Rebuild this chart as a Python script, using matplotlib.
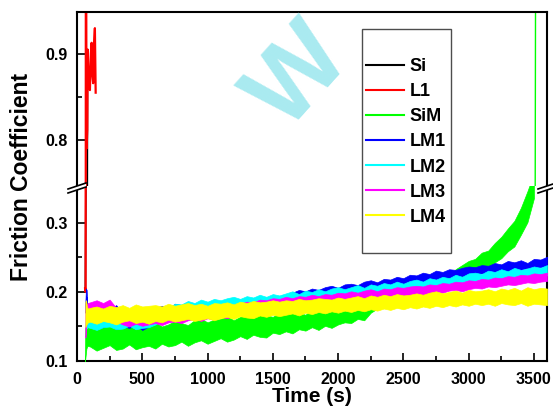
import numpy as np
import matplotlib
matplotlib.use("Agg")
import matplotlib.pyplot as plt
import matplotlib.ticker as mticker
from matplotlib.lines import Line2D
from matplotlib.patches import Rectangle, Polygon

plt.rcParams["font.family"] = ["Liberation Sans", "DejaVu Sans"]
plt.rcParams["font.weight"] = "bold"

# ================== figure geometry (pixels) ==================
W, H, DPI = 553, 418, 100
AX_L, AX_R = 77, 547          # plot area left / right
AX_T, AX_B, AX_MID = 12, 361, 186   # top, bottom, axis break

# ================== data ==================
# sampling times of the noisy friction bands (s)
t_grid = np.arange(100, 3601, 50)

# Si and L1 fail almost at once
si_t = [64, 79, 80]
si_v = [0.20, 0.75, 0.905]

l1_t = [62, 66, 68, 73, 79, 82, 90, 99, 106, 112, 118, 124, 130, 137, 143]
l1_v = [0.205, 0.20, 1.20, 0.79, 0.812, 0.905, 0.87, 0.858, 0.90, 0.913,
        0.875, 0.866, 0.91, 0.93, 0.855]

# band envelopes, values x 1e-3 ; *_t0 / *_lo0 / *_hi0 = running-in part
sim_t0 = [60, 64, 72, 80]
sim_lo0 = [98, 104, 118, 122]
sim_hi0 = [101, 150, 146, 151]
sim_lo = [121, 115, 119, 123, 116, 118, 124, 117, 120, 122,
          118, 125, 121, 123, 128, 122, 127, 130, 125, 129,
          133, 128, 131, 136, 132, 138, 135, 134, 141, 139,
          143, 140, 146, 144, 149, 145, 151, 148, 153, 156,
          155, 161, 159, 170, 176, 177, 182, 181, 186, 188,
          191, 193, 197, 199, 204, 207, 212, 212, 219, 221,
          229, 234, 243, 249, 259, 266, 283, 301, 336]
sim_hi = [152, 147, 150, 155, 148, 151, 153, 146, 154, 150,
          156, 150, 153, 158, 155, 152, 159, 161, 156, 160,
          161, 165, 159, 164, 167, 162, 169, 166, 164, 170,
          168, 172, 170, 167, 175, 173, 171, 177, 174, 176,
          179, 175, 181, 182, 186, 187, 191, 190, 195, 196,
          201, 203, 209, 211, 218, 223, 233, 239, 245, 248,
          257, 260, 271, 280, 292, 303, 322, 346, 372]
# SiM breaks down near 3500 s
sim_end_t = [3505, 3515]
sim_end_v = [0.36, 1.20]

lm1_t0 = [64, 68, 74, 80]
lm1_lo0 = [170, 194, 192, 158]
lm1_hi0 = [180, 205, 203, 172]
lm1_lo = [151, 147, 149, 153, 146, 150, 148, 152, 145, 150,
          155, 159, 161, 165, 163, 168, 166, 171, 169, 173,
          172, 176, 174, 178, 175, 179, 177, 182, 180, 183,
          184, 187, 185, 189, 191, 190, 194, 193, 196, 198,
          199, 202, 201, 204, 206, 205, 208, 210, 209, 213,
          212, 215, 217, 216, 219, 221, 220, 223, 225, 226,
          227, 226, 229, 231, 230, 233, 232, 235, 234, 236, 238]
lm1_hi = [170, 176, 168, 174, 181, 169, 175, 172, 178, 171,
          177, 180, 176, 183, 181, 184, 182, 185, 183, 186,
          185, 188, 186, 189, 187, 191, 188, 192, 190, 194,
          196, 199, 203, 201, 205, 203, 207, 209, 206, 211,
          212, 210, 215, 217, 214, 219, 218, 222, 220, 225,
          224, 228, 226, 231, 229, 233, 232, 235, 237, 236,
          239, 238, 242, 240, 245, 243, 246, 242, 248, 247, 251]

lm2_t0 = [66, 72, 80]
lm2_lo0 = [150, 147, 149]
lm2_hi0 = [158, 160, 161]
lm2_lo = [148, 145, 149, 150, 146, 147, 151, 146, 148, 149,
          153, 158, 161, 167, 168, 172, 171, 175, 172, 176,
          175, 179, 176, 178, 182, 179, 183, 181, 185, 183,
          187, 185, 188, 191, 188, 190, 193, 190, 194, 192,
          196, 194, 197, 199, 196, 200, 202, 199, 203, 204,
          203, 207, 205, 208, 210, 207, 211, 213, 210, 214,
          216, 213, 217, 219, 216, 220, 222, 219, 223, 221, 224]
lm2_hi = [163, 159, 162, 166, 160, 164, 161, 167, 162, 165,
          168, 175, 177, 183, 182, 187, 184, 189, 186, 190,
          188, 191, 193, 190, 194, 192, 196, 193, 197, 195,
          198, 201, 197, 202, 200, 204, 201, 205, 207, 204,
          207, 210, 206, 211, 209, 213, 211, 215, 212, 216,
          218, 215, 220, 218, 222, 220, 225, 222, 227, 228,
          226, 231, 229, 233, 230, 235, 232, 234, 237, 235, 239]

lm3_t0 = [64, 68, 74, 82]
lm3_lo0 = [134, 140, 160, 167]
lm3_hi0 = [178, 188, 180, 184]
lm3_lo = [167, 164, 168, 163, 157, 153, 150, 154, 151, 153,
          155, 152, 156, 157, 155, 159, 161, 158, 162, 160,
          164, 162, 166, 168, 167, 170, 172, 170, 174, 175,
          174, 177, 179, 177, 180, 182, 181, 184, 183, 186,
          185, 187, 189, 188, 190, 192, 191, 193, 195, 194,
          197, 196, 198, 200, 199, 202, 203, 201, 204, 206,
          205, 208, 207, 209, 211, 210, 212, 214, 213, 215, 216]
lm3_hi = [185, 188, 184, 189, 177, 169, 166, 168, 164, 167,
          168, 165, 169, 170, 168, 172, 171, 174, 172, 175,
          177, 176, 180, 183, 186, 185, 189, 188, 191, 190,
          193, 191, 194, 193, 196, 194, 197, 196, 199, 198,
          201, 199, 202, 204, 201, 205, 204, 207, 206, 208,
          209, 208, 211, 210, 213, 212, 215, 214, 217, 216,
          219, 218, 221, 220, 223, 222, 225, 224, 227, 226, 228]

lm4_t0 = [64, 70, 76, 84]
lm4_lo0 = [149, 152, 154, 156]
lm4_hi0 = [186, 188, 178, 176]
lm4_lo = [157, 154, 158, 156, 153, 157, 159, 155, 157, 154,
          158, 156, 160, 157, 159, 161, 158, 160, 162, 159,
          162, 164, 161, 165, 163, 162, 166, 164, 167, 165,
          167, 169, 166, 170, 168, 171, 169, 172, 170, 173,
          171, 174, 172, 175, 173, 176, 174, 177, 175, 178,
          176, 179, 177, 180, 178, 181, 179, 182, 180, 183,
          181, 183, 180, 184, 182, 181, 184, 180, 183, 182, 181]
lm4_hi = [177, 179, 176, 180, 178, 181, 177, 182, 179, 180,
          181, 179, 183, 180, 182, 184, 181, 183, 180, 184,
          183, 185, 182, 186, 184, 187, 185, 186, 188, 186,
          188, 187, 190, 188, 189, 191, 190, 189, 192, 190,
          192, 194, 191, 195, 193, 196, 194, 197, 195, 196,
          198, 196, 199, 201, 198, 200, 202, 199, 203, 201,
          202, 204, 201, 205, 203, 206, 202, 207, 204, 206, 205]

labels = ["Si", "L1", "SiM", "LM1", "LM2", "LM3", "LM4"]
colors = ["#000000", "#ff0000", "#00ff00", "#0000ff", "#00ffff", "#ff00ff", "#ffff00"]

bands = [
    (sim_t0, sim_lo0, sim_hi0, sim_lo, sim_hi, colors[2]),
    (lm1_t0, lm1_lo0, lm1_hi0, lm1_lo, lm1_hi, colors[3]),
    (lm2_t0, lm2_lo0, lm2_hi0, lm2_lo, lm2_hi, colors[4]),
    (lm3_t0, lm3_lo0, lm3_hi0, lm3_lo, lm3_hi, colors[5]),
    (lm4_t0, lm4_lo0, lm4_hi0, lm4_lo, lm4_hi, colors[6]),
]


def fx(x):
    return x / W


def fy(y):
    return 1 - y / H


def draw_series(ax):
    ax.plot(si_t, si_v, color=colors[0], lw=1.2, zorder=2)
    ax.plot(l1_t, l1_v, color=colors[1], lw=1.6, zorder=2)
    ax.plot(sim_end_t, sim_end_v, color=colors[2], lw=1.0, zorder=2)
    z = 3
    for t0, lo0, hi0, lo, hi, c in bands:
        t = np.concatenate([t0, t_grid[:len(lo)]])
        lo_v = np.concatenate([lo0, lo]) / 1000.0
        hi_v = np.concatenate([hi0, hi]) / 1000.0
        ax.fill_between(t, lo_v, hi_v, color=c, lw=0.5, edgecolor=c, zorder=z)
        z += 1


fig = plt.figure(figsize=(W / DPI, H / DPI), dpi=DPI)
ax_up = fig.add_axes([fx(AX_L), fy(AX_MID), fx(AX_R - AX_L), (AX_MID - AX_T) / H])
ax_lo = fig.add_axes([fx(AX_L), fy(AX_B), fx(AX_R - AX_L), (AX_B - AX_MID) / H])

for ax in (ax_up, ax_lo):
    draw_series(ax)
    ax.set_xlim(0, 3600)
    for s in ax.spines.values():
        s.set_linewidth(1.5)
    ax.tick_params(which="both", direction="in", width=1.2, labelsize=11.5,
                   top=False, right=False)
    ax.tick_params(which="major", length=6)
    ax.tick_params(which="minor", length=3.5)
    ax.yaxis.set_major_formatter(mticker.FormatStrFormatter("%.1f"))
    ax.tick_params(axis="y", pad=7)

# upper part of the broken axis
ax_up.set_ylim(0.7465, 0.9488)
ax_up.spines["bottom"].set_visible(False)
ax_up.set_yticks([0.8, 0.9])
ax_up.yaxis.set_minor_locator(mticker.FixedLocator([0.85]))
ax_up.tick_params(axis="x", which="both", bottom=False, labelbottom=False)

# lower part
ax_lo.set_ylim(0.1, 0.3536)
ax_lo.spines["top"].set_visible(False)
ax_lo.set_yticks([0.1, 0.2, 0.3])
ax_lo.yaxis.set_minor_locator(mticker.FixedLocator([0.15, 0.25]))
ax_lo.xaxis.set_major_locator(mticker.MultipleLocator(500))
ax_lo.xaxis.set_minor_locator(mticker.MultipleLocator(250))
ax_lo.tick_params(axis="x", pad=8)

# break marks on both spines
for xc, yc in [(77, 187.5), (547, 187.5)]:
    gap = [(xc - 9, yc + 5.5), (xc + 9, yc - 0.5), (xc + 9, yc - 4.5), (xc - 9, yc + 1.5)]
    fig.patches.append(Polygon([(fx(a), fy(b)) for a, b in gap], closed=True,
                               facecolor="white", edgecolor="none",
                               transform=fig.transFigure, zorder=20))
    for off in (-2.0, 2.0):
        fig.add_artist(Line2D([fx(xc - 9), fx(xc + 9)],
                              [fy(yc + 3.5 + off), fy(yc - 2.5 + off)],
                              color="black", lw=1.2, zorder=21))

fig.text(fx(22), fy(177), "Friction Coefficient", rotation=90, fontsize=16.5,
         fontweight="bold", ha="center", va="center")
fig.text(fx(312), fy(397), "Time (s)", fontsize=15, fontweight="bold",
         ha="center", va="center")

# legend
handles = [Line2D([], [], color=c, lw=1.5) for c in colors]
fig.legend(handles, labels, loc="upper left",
           bbox_to_anchor=(fx(366), fy(58)), frameon=False,
           prop={"size": 13, "weight": "bold"}, borderpad=0, borderaxespad=0,
           handlelength=2.1, handletextpad=0.3, labelspacing=0.45)
fig.patches.append(Rectangle((fx(362.3), fy(252.7)), fx(89), 223.4 / H,
                             transform=fig.transFigure, facecolor="none",
                             edgecolor="#4d4d4d", lw=1.0, zorder=19))

# cyan watermark
fig.text(fx(287), fy(133), "W", rotation=48, rotation_mode="anchor",
         ha="left", va="baseline", fontsize=75, fontweight="bold",
         color="#a9eaf0", zorder=30)

fig.savefig("out.png", dpi=DPI)
